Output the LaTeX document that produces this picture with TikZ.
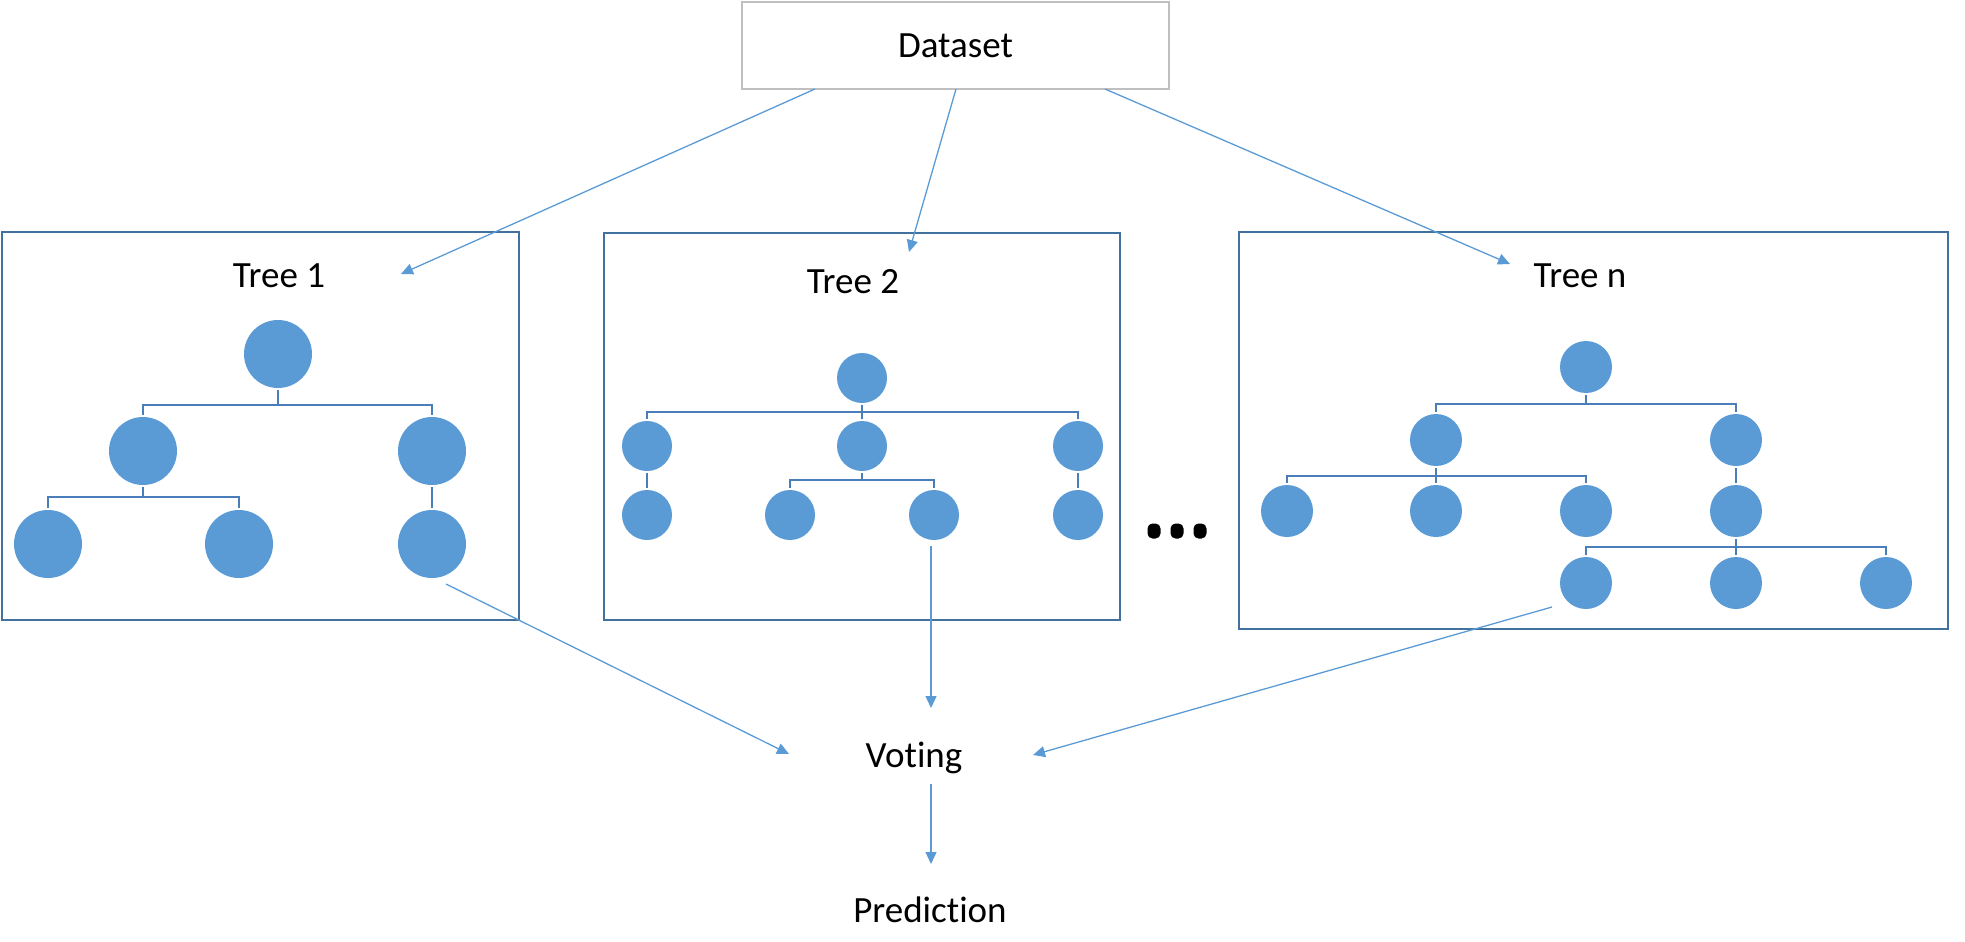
\documentclass[tikz,border=0pt]{standalone}
\usepackage{fontspec}
\setmainfont{Carlito}[Ligatures=NoCommon]
\usetikzlibrary{arrows.meta}
\definecolor{nodeblue}{HTML}{5B9BD5}
\definecolor{boxblue}{HTML}{41719C}
\definecolor{barblue}{HTML}{4A7EBB}
\definecolor{dsgray}{HTML}{BFBFBF}
\begin{document}
\begin{tikzpicture}[x=1pt,y=-1pt,
  tbox/.style={draw=boxblue,line width=2pt,anchor=north west,inner sep=0pt},
  dsbox/.style={draw=dsgray,line width=2pt,anchor=north west,inner sep=0pt,font=\fontsize{37}{44}\selectfont},
  lbl/.style={font=\fontsize{37}{44}\selectfont,anchor=base,inner sep=0pt},
  cA/.style={circle,fill=nodeblue,minimum size=68pt,inner sep=0pt,outer sep=2pt},
  cB/.style={circle,fill=nodeblue,minimum size=50pt,inner sep=0pt,outer sep=2pt},
  cC/.style={circle,fill=nodeblue,minimum size=52pt,inner sep=0pt,outer sep=2pt},
  bar/.style={draw=barblue,line width=2pt},
  arr/.style={draw=nodeblue,line width=1.3pt,-{Triangle[length=12pt,width=11pt]}},
  dot/.style={rectangle,rounded corners=5pt,fill=black,minimum width=13pt,minimum height=15pt,inner sep=0pt}]
\useasboundingbox (0,0) rectangle (1965,942);

% Dataset
\node[dsbox,minimum width=427pt,minimum height=87pt] (ds) at (741,1) {Dataset};

% Tree boxes
\node[tbox,minimum width=517pt,minimum height=388pt] (box1) at (1,231) {};
\node[tbox,minimum width=516pt,minimum height=387pt] (box2) at (603,232) {};
\node[tbox,minimum width=709pt,minimum height=397pt] (boxn) at (1238,231) {};

% Labels
\node[lbl] (t1) at (279,287) {Tree 1};
\node[lbl] (t2) at (853,293) {Tree 2};
\node[lbl] (tn) at (1580,287) {Tree n};
\node[lbl] (vote) at (914,767) {Voting};
\node[lbl] (pred) at (930,922) {Predic\kern0pt tion};

% Tree 1
\node[cA] (a1) at (278,354) {};
\node[cA] (a2) at (143,451) {};
\node[cA] (a3) at (432,451) {};
\node[cA] (a4) at (48,544) {};
\node[cA] (a5) at (239,544) {};
\node[cA] (a6) at (432,544) {};
\coordinate (ab1) at (0,405);
\coordinate (ab2) at (0,497);
\draw[bar] (a1.south) -- (a1.south |- ab1);
\draw[bar] (a2.north) -- (a2.north |- ab1) -- (a3.north |- ab1) -- (a3.north);
\draw[bar] (a2.south) -- (a2.south |- ab2);
\draw[bar] (a4.north) -- (a4.north |- ab2) -- (a5.north |- ab2) -- (a5.north);
\draw[bar] (a3.south) -- (a6.north);

% Tree 2
\node[cB] (b1) at (862,378) {};
\node[cB] (b2) at (647,446) {};
\node[cB] (b3) at (862,446) {};
\node[cB] (b4) at (1078,446) {};
\node[cB] (b5) at (647,515) {};
\node[cB] (b6) at (790,515) {};
\node[cB] (b7) at (934,515) {};
\node[cB] (b8) at (1078,515) {};
\coordinate (bb1) at (0,412);
\coordinate (bb2) at (0,480);
\draw[bar] (b1.south) -- (b3.north);
\draw[bar] (b2.north) -- (b2.north |- bb1) -- (b4.north |- bb1) -- (b4.north);
\draw[bar] (b3.south) -- (b3.south |- bb2);
\draw[bar] (b6.north) -- (b6.north |- bb2) -- (b7.north |- bb2) -- (b7.north);
\draw[bar] (b2.south) -- (b5.north);
\draw[bar] (b4.south) -- (b8.north);

% Tree n
\node[cC] (n1) at (1586,367) {};
\node[cC] (n2) at (1436,440) {};
\node[cC] (n3) at (1736,440) {};
\node[cC] (n4) at (1287,511) {};
\node[cC] (n5) at (1436,511) {};
\node[cC] (n6) at (1586,511) {};
\node[cC] (n7) at (1736,511) {};
\node[cC] (n8) at (1586,583) {};
\node[cC] (n9) at (1736,583) {};
\node[cC] (n10) at (1886,583) {};
\coordinate (nb1) at (0,404);
\coordinate (nb2) at (0,476);
\coordinate (nb3) at (0,547);
\draw[bar] (n1.south) -- (n1.south |- nb1);
\draw[bar] (n2.north) -- (n2.north |- nb1) -- (n3.north |- nb1) -- (n3.north);
\draw[bar] (n2.south) -- (n5.north);
\draw[bar] (n4.north) -- (n4.north |- nb2) -- (n6.north |- nb2) -- (n6.north);
\draw[bar] (n3.south) -- (n7.north);
\draw[bar] (n7.south) -- (n9.north);
\draw[bar] (n8.north) -- (n8.north |- nb3) -- (n10.north |- nb3) -- (n10.north);

% Ellipsis
\node[dot] (d1) at (1154,531) {};
\node[dot] (d2) at (1177,531) {};
\node[dot] (d3) at (1200,531) {};

% Arrow end points
\coordinate (s1) at (815,89);
\coordinate (s2) at (956,89);
\coordinate (s3) at (1105,89);
\coordinate (e1) at (401,274);
\coordinate (e2) at (909,252);
\coordinate (e3) at (1510,264);
\coordinate (f1) at (446,584);
\coordinate (f2) at (931,546);
\coordinate (f3) at (1552,607);
\coordinate (g1) at (789,754);
\coordinate (g2) at (931,708);
\coordinate (g3) at (1033,755);
\coordinate (h1) at (931,784);
\coordinate (h2) at (931,864);

\draw[arr] (s1) -- (e1);
\draw[arr] (s2) -- (e2);
\draw[arr] (s3) -- (e3);
\draw[arr] (f1) -- (g1);
\draw[arr] (f2) -- (g2);
\draw[arr] (f3) -- (g3);
\draw[arr] (h1) -- (h2);
\end{tikzpicture}
\end{document}
